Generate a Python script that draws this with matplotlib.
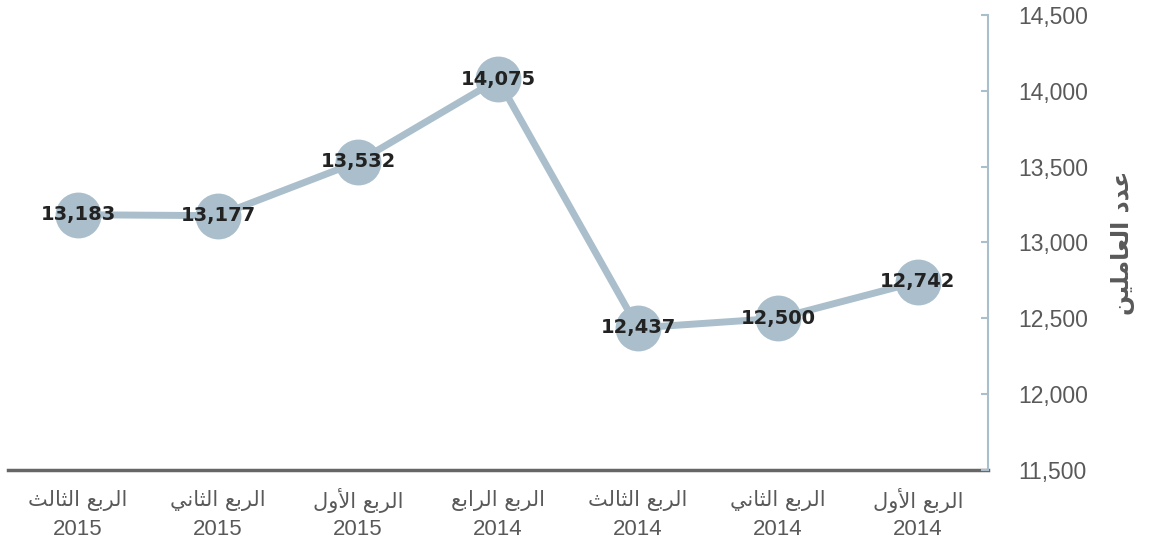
import matplotlib
matplotlib.use("Agg")
import matplotlib.pyplot as plt


# Data (chronological order, drawn right-to-left)
quarters = ["الربع الأول", "الربع الثاني", "الربع الثالث", "الربع الرابع",
            "الربع الأول", "الربع الثاني", "الربع الثالث"]
years = ["2014", "2014", "2014", "2014", "2015", "2015", "2015"]
employees = [12742, 12500, 12437, 14075, 13532, 13177, 13183]
y_ticks = [11500, 12000, 12500, 13000, 13500, 14000, 14500]
y_title = "عدد العاملين"


# Minimal Arabic shaping (matplotlib has no bidi / joining support)
# forms: isolated, final, initial, medial
FORMS = {
    "ا": ("\uFE8D", "\uFE8E", None, None),
    "أ": ("\uFE83", "\uFE84", None, None),
    "د": ("\uFEA9", "\uFEAA", None, None),
    "ر": ("\uFEAD", "\uFEAE", None, None),
    "و": ("\uFEED", "\uFEEE", None, None),
    "ب": ("\uFE8F", "\uFE90", "\uFE91", "\uFE92"),
    "ث": ("\uFE99", "\uFE9A", "\uFE9B", "\uFE9C"),
    "ع": ("\uFEC9", "\uFECA", "\uFECB", "\uFECC"),
    "ل": ("\uFEDD", "\uFEDE", "\uFEDF", "\uFEE0"),
    "م": ("\uFEE1", "\uFEE2", "\uFEE3", "\uFEE4"),
    "ن": ("\uFEE5", "\uFEE6", "\uFEE7", "\uFEE8"),
    "ي": ("\uFEF1", "\uFEF2", "\uFEF3", "\uFEF4"),
}
LAM_ALEF = {"ا": ("\uFEFB", "\uFEFC"), "أ": ("\uFEF7", "\uFEF8")}


def dual(c):
    return c in FORMS and FORMS[c][2] is not None


def shape(text):
    out = []
    chars = list(text)
    i = 0
    while i < len(chars):
        c = chars[i]
        prev = chars[i - 1] if i > 0 else ""
        joins_prev = dual(prev) and c in FORMS
        if c == "ل" and i + 1 < len(chars) and chars[i + 1] in LAM_ALEF:
            out.append(LAM_ALEF[chars[i + 1]][1 if joins_prev else 0])
            i += 2
            continue
        if c not in FORMS:
            out.append(c)
            i += 1
            continue
        nxt = chars[i + 1] if i + 1 < len(chars) else ""
        joins_next = dual(c) and nxt in FORMS
        iso, fin, ini, med = FORMS[c]
        if joins_prev and joins_next:
            out.append(med)
        elif joins_prev:
            out.append(fin)
        elif joins_next:
            out.append(ini)
        else:
            out.append(iso)
        i += 1
    return "".join(reversed(out))


line_color = "#AABFCB"
text_gray = "#595959"
num_font = ["Liberation Sans", "DejaVu Sans"]

fig = plt.figure(figsize=(11.53, 5.52), dpi=100)
ax = fig.add_axes([8 / 1153, 1 - 470 / 552, 980 / 1153, 455 / 552])

x = list(range(len(employees)))
ax.plot(x, employees, color=line_color, linewidth=5, zorder=2,
        marker="o", markersize=33, markeredgewidth=0)

for xi, v in zip(x, employees):
    ax.text(xi, v, f"{v:,}", ha="center", va="center", fontsize=14,
            fontweight="bold", color="#222222", zorder=3)

ax.set_xlim(-0.5, len(employees) - 0.5)
ax.invert_xaxis()
ax.set_ylim(11500, 14500)

# category labels: Arabic quarter on top, year below
ax.set_xticks(x)
ax.set_xticklabels([])
ax.tick_params(axis="x", length=0)
trans = ax.get_xaxis_transform()
for xi, q, yr in zip(x, quarters, years):
    ax.text(xi, -0.066, shape(q), transform=trans, ha="center", va="center",
            fontsize=15, color=text_gray, clip_on=False)
    ax.text(xi, -0.13, yr, transform=trans, ha="center", va="center",
            fontsize=16, color=text_gray, family=num_font, clip_on=False)

ax.yaxis.tick_right()
ax.yaxis.set_label_position("right")
ax.set_yticks(y_ticks)
ax.set_yticklabels([f"{t:,}" for t in y_ticks], fontsize=16.5,
                   color=text_gray, family=num_font)
ax.tick_params(axis="y", direction="in", length=5, width=1.5,
               color=line_color, pad=22)
ax.set_ylabel(shape(y_title), fontsize=17, fontweight="bold",
              color=text_gray, labelpad=16, rotation=90)

for side in ["top", "left"]:
    ax.spines[side].set_visible(False)
ax.spines["right"].set_color(line_color)
ax.spines["right"].set_linewidth(1.5)
ax.spines["bottom"].set_color("#666666")
ax.spines["bottom"].set_linewidth(2.5)
ax.spines["bottom"].set_zorder(1)

fig.savefig("out.png", dpi=100)
